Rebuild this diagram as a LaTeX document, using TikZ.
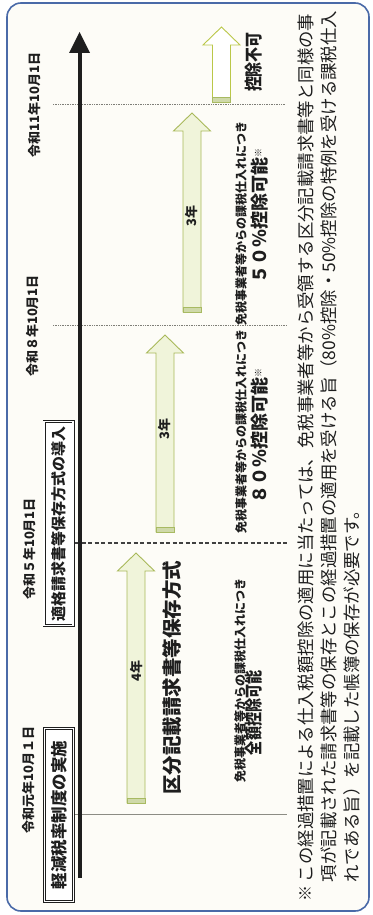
\documentclass[tikz,border=0pt]{standalone}
\usepackage{fontspec}
\setmainfont{Noto Sans CJK JP}
\usepackage{graphicx}
\definecolor{framec}{HTML}{4A6AA8}
\definecolor{paper}{HTML}{FDFCF7}
\definecolor{ink}{HTML}{1E1E1E}
\definecolor{arrfill}{HTML}{F0F4DA}
\definecolor{arrline}{HTML}{A9B95A}
\definecolor{band}{HTML}{A8BA62}
\definecolor{gridc}{HTML}{8C8C84}
\newcommand{\blkarrow}[4]{%
  \draw[#4] (#1-9,#3) -- (#1-9,#2+18) -- (#1-18.5,#2+18) -- (#1,#2) -- (#1+18.5,#2+18) -- (#1+9,#2+18) -- (#1+9,#3) -- cycle;
  \draw[draw=band, fill=band!55, line width=0.7pt] (#1-9,#3-5) rectangle (#1+9,#3);}
\tikzset{
  txt/.style={inner sep=0pt, outer sep=0pt, text=ink, rotate=90},
  datest/.style={txt, font=\fontsize{13}{13}\selectfont\bfseries},
  boxst/.style={rotate=90, draw=ink, line width=0.7pt, double=white, double distance=1.6pt, fill=white, inner sep=0pt, text=ink, minimum height=29pt},
  arrst/.style={draw=arrline, line width=0.9pt, fill=arrfill, line join=miter},
  emptyarr/.style={draw=arrline!80!yellow, line width=0.9pt, fill=white, line join=miter},
  smallst/.style={txt, anchor=west, font=\fontsize{12}{12}\selectfont\bfseries},
  bigst/.style={txt, anchor=west, font=\fontsize{18}{18}\selectfont\bfseries},
  yearst/.style={txt, font=\fontsize{13}{13}\selectfont\bfseries},
  notest/.style={txt, anchor=west, font=\fontsize{17.4}{17.4}\selectfont},
}
\begin{document}
\begin{tikzpicture}[x=1pt,y=-1pt]
\useasboundingbox (0,0) rectangle (372,915);
\fill[white] (0,0) rectangle (372,915);
\draw[framec, line width=1.6pt, rounded corners=14pt, fill=paper] (7,3) rectangle (369,911);

% boundary lines
\coordinate (l0a) at (75,814); \coordinate (l0b) at (287,814);
\coordinate (l5a) at (75,543); \coordinate (l5b) at (287,543);
\coordinate (l8a) at (53,325); \coordinate (l8b) at (287,325);
\coordinate (l11a) at (53,104); \coordinate (l11b) at (285,104);
\draw[gridc, line width=0.7pt] (l0a) -- (l0b);
\draw[ink!85, line width=1.8pt, dash pattern=on 4pt off 2.5pt] (l5a) -- (l5b);
\draw[gridc!90!black, line width=0.8pt, dash pattern=on 1pt off 0.7pt] (l8a) -- (l8b);
\draw[gridc!90!black, line width=0.8pt, dash pattern=on 1pt off 0.7pt] (l11a) -- (l11b);

% timeline
\coordinate (tlbot) at (79.5,878);
\coordinate (tltop) at (79.5,50);
\draw[line width=4pt, ink] (tlbot) -- (tltop);
\fill[ink] (69,53) -- (79.5,32) -- (90,53) -- cycle;

% dates
\node[datest] (d0) at (29,780) {令和元年10月１日};
\node[datest] (d5) at (30,549) {令和５年10月1日};
\node[datest] (d8) at (33,326) {令和８年10月1日};
\node[datest] (d11) at (35,105) {令和11年10月1日};

% boxes
\node[boxst, minimum width=173pt, font=\fontsize{16.5}{16.5}\selectfont\bfseries] (kb) at (59,815) {軽減税率制度の実施};
\node[boxst, minimum width=204pt, font=\fontsize{15}{15}\selectfont\bfseries] (tb) at (58.5,523.5) {適格請求書等保存方式の導入};

% arrows
\blkarrow{136}{553}{803}{arrst}
\blkarrow{165}{335}{532}{arrst}
\blkarrow{192}{113}{312}{arrst}
\blkarrow{221.5}{27}{102}{emptyarr}

\node[yearst] (y4) at (137,671) {4年};
\node[yearst] (y3a) at (165,429) {3年};
\node[yearst] (y3b) at (192,216) {3年};

% main scheme label
\node[txt, font=\fontsize{19.5}{19.5}\selectfont\bfseries] (kubun) at (172.5,677.5) {区分記載請求書等保存方式};

% deduction labels
\node[smallst] (s1) at (240,782) {免税事業者等からの課税仕入れにつき};
\node[bigst] (b1) at (254,755) {\scalebox{0.78}[1]{全額控除可能}};
\node[smallst] (s2) at (241,533) {免税事業者等からの課税仕入れにつき};
\node[bigst] (b2) at (260,503) {８０％控除可能{\fontsize{9}{9}\selectfont\raisebox{1.1ex}{※}}};
\node[smallst] (s3) at (241,325) {免税事業者等からの課税仕入れにつき};
\node[bigst] (b3) at (260,283) {５０％控除可能{\fontsize{9}{9}\selectfont\raisebox{1.1ex}{※}}};
\node[bigst] (b4) at (254,92) {\scalebox{0.83}[1]{控除不可}};

% footnote
\node[txt, font=\fontsize{16}{16}\selectfont] (mark) at (306,893) {※};
\node[notest] (n1) at (306,882) {この経過措置による仕入税額控除の適用に当たっては、免税事業者等から受領する区分記載請求書等と同様の事};
\node[notest] (n2) at (329,882) {項が記載された請求書等の保存とこの経過措置の適用を受ける旨（80\%控除・50\%控除の特例を受ける課税仕入};
\node[notest] (n3) at (352,882) {れである旨）を記載した帳簿の保存が必要です。};
\end{tikzpicture}
\end{document}
